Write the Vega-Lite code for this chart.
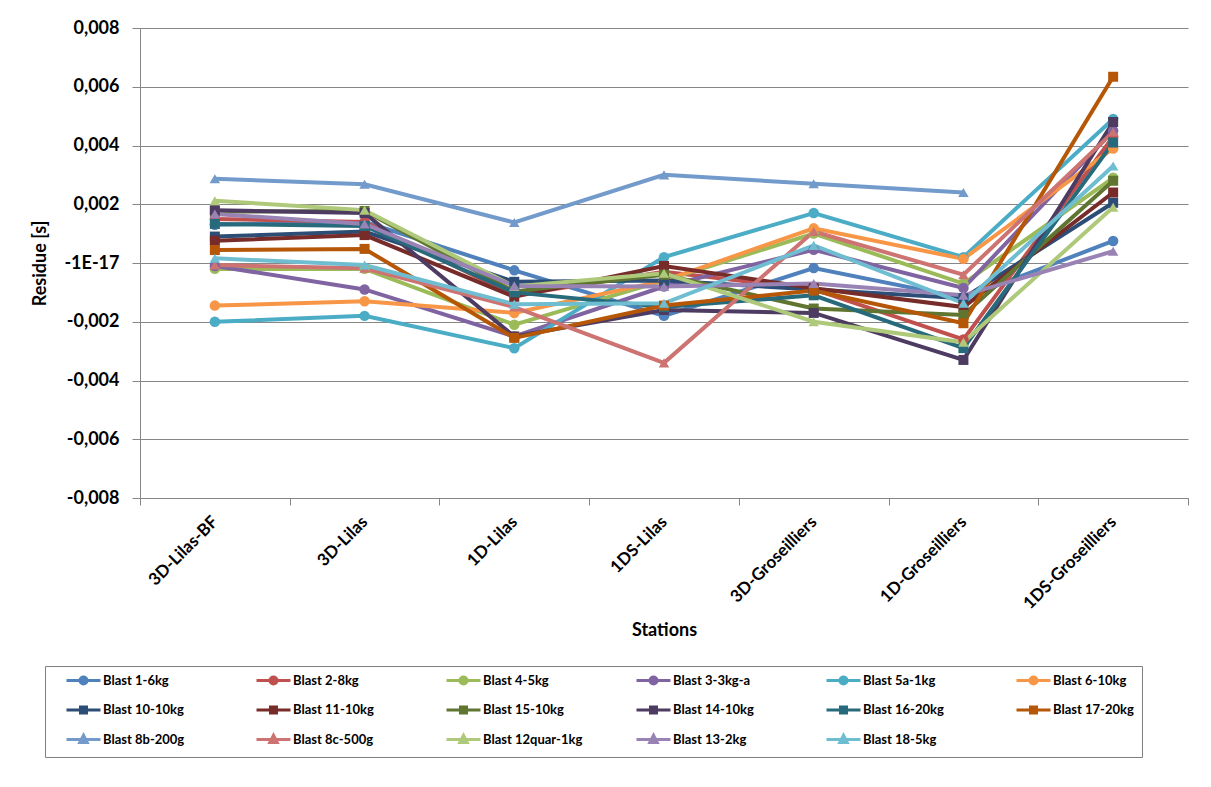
{
  "$schema": "https://vega.github.io/schema/vega-lite/v6.json",
  "autosize": "none",
  "width": 1048,
  "height": 470,
  "padding": {"left": 140, "top": 28, "right": 23, "bottom": 289},
  "background": "#ffffff",
  "config": {
    "font": "Lato",
    "view": {"stroke": null},
    "axis": {"gridColor": "#868686", "gridWidth": 1, "domainColor": "#868686", "tickColor": "#868686", "labelColor": "#000000", "titleColor": "#000000", "labelFont": "Lato", "titleFont": "Lato", "labelFontWeight": "bold", "titleFontWeight": "bold"}
  },
  "data": {"values": [
    {"b":"Blast 1-6kg","s":"3D-Lilas-BF","v":0.0013},
    {"b":"Blast 1-6kg","s":"3D-Lilas","v":0.0014},
    {"b":"Blast 1-6kg","s":"1D-Lilas","v":-0.00025},
    {"b":"Blast 1-6kg","s":"1DS-Lilas","v":-0.0018},
    {"b":"Blast 1-6kg","s":"3D-Groseilliers","v":-0.00017},
    {"b":"Blast 1-6kg","s":"1D-Groseilliers","v":-0.0012},
    {"b":"Blast 1-6kg","s":"1DS-Groseilliers","v":0.00075},
    {"b":"Blast 2-8kg","s":"3D-Lilas-BF","v":0.0015},
    {"b":"Blast 2-8kg","s":"3D-Lilas","v":0.0014},
    {"b":"Blast 2-8kg","s":"1D-Lilas","v":-0.0011},
    {"b":"Blast 2-8kg","s":"1DS-Lilas","v":-0.0003},
    {"b":"Blast 2-8kg","s":"3D-Groseilliers","v":-0.0009},
    {"b":"Blast 2-8kg","s":"1D-Groseilliers","v":-0.0026},
    {"b":"Blast 2-8kg","s":"1DS-Groseilliers","v":0.0043},
    {"b":"Blast 4-5kg","s":"3D-Lilas-BF","v":-0.0002},
    {"b":"Blast 4-5kg","s":"3D-Lilas","v":-0.0002},
    {"b":"Blast 4-5kg","s":"1D-Lilas","v":-0.0021},
    {"b":"Blast 4-5kg","s":"1DS-Lilas","v":-0.0006},
    {"b":"Blast 4-5kg","s":"3D-Groseilliers","v":0.001},
    {"b":"Blast 4-5kg","s":"1D-Groseilliers","v":-0.0007},
    {"b":"Blast 4-5kg","s":"1DS-Groseilliers","v":0.0029},
    {"b":"Blast 3-3kg-a","s":"3D-Lilas-BF","v":-0.0001},
    {"b":"Blast 3-3kg-a","s":"3D-Lilas","v":-0.0009},
    {"b":"Blast 3-3kg-a","s":"1D-Lilas","v":-0.0025},
    {"b":"Blast 3-3kg-a","s":"1DS-Lilas","v":-0.0008},
    {"b":"Blast 3-3kg-a","s":"3D-Groseilliers","v":0.00045},
    {"b":"Blast 3-3kg-a","s":"1D-Groseilliers","v":-0.00085},
    {"b":"Blast 3-3kg-a","s":"1DS-Groseilliers","v":0.0045},
    {"b":"Blast 5a-1kg","s":"3D-Lilas-BF","v":-0.002},
    {"b":"Blast 5a-1kg","s":"3D-Lilas","v":-0.0018},
    {"b":"Blast 5a-1kg","s":"1D-Lilas","v":-0.0029},
    {"b":"Blast 5a-1kg","s":"1DS-Lilas","v":0.0002},
    {"b":"Blast 5a-1kg","s":"3D-Groseilliers","v":0.0017},
    {"b":"Blast 5a-1kg","s":"1D-Groseilliers","v":0.0002},
    {"b":"Blast 5a-1kg","s":"1DS-Groseilliers","v":0.0049},
    {"b":"Blast 6-10kg","s":"3D-Lilas-BF","v":-0.00145},
    {"b":"Blast 6-10kg","s":"3D-Lilas","v":-0.0013},
    {"b":"Blast 6-10kg","s":"1D-Lilas","v":-0.0017},
    {"b":"Blast 6-10kg","s":"1DS-Lilas","v":-0.0006},
    {"b":"Blast 6-10kg","s":"3D-Groseilliers","v":0.00118},
    {"b":"Blast 6-10kg","s":"1D-Groseilliers","v":0.00014},
    {"b":"Blast 6-10kg","s":"1DS-Groseilliers","v":0.0039},
    {"b":"Blast 10-10kg","s":"3D-Lilas-BF","v":0.0009},
    {"b":"Blast 10-10kg","s":"3D-Lilas","v":0.00107},
    {"b":"Blast 10-10kg","s":"1D-Lilas","v":-0.00064},
    {"b":"Blast 10-10kg","s":"1DS-Lilas","v":-0.0006},
    {"b":"Blast 10-10kg","s":"3D-Groseilliers","v":-0.0009},
    {"b":"Blast 10-10kg","s":"1D-Groseilliers","v":-0.0012},
    {"b":"Blast 10-10kg","s":"1DS-Groseilliers","v":0.00205},
    {"b":"Blast 11-10kg","s":"3D-Lilas-BF","v":0.00076},
    {"b":"Blast 11-10kg","s":"3D-Lilas","v":0.00095},
    {"b":"Blast 11-10kg","s":"1D-Lilas","v":-0.00115},
    {"b":"Blast 11-10kg","s":"1DS-Lilas","v":-0.0001},
    {"b":"Blast 11-10kg","s":"3D-Groseilliers","v":-0.00086},
    {"b":"Blast 11-10kg","s":"1D-Groseilliers","v":-0.0015},
    {"b":"Blast 11-10kg","s":"1DS-Groseilliers","v":0.0024},
    {"b":"Blast 15-10kg","s":"3D-Lilas-BF","v":0.00175},
    {"b":"Blast 15-10kg","s":"3D-Lilas","v":0.00177},
    {"b":"Blast 15-10kg","s":"1D-Lilas","v":-0.00097},
    {"b":"Blast 15-10kg","s":"1DS-Lilas","v":-0.0004},
    {"b":"Blast 15-10kg","s":"3D-Groseilliers","v":-0.00155},
    {"b":"Blast 15-10kg","s":"1D-Groseilliers","v":-0.00177},
    {"b":"Blast 15-10kg","s":"1DS-Groseilliers","v":0.0028},
    {"b":"Blast 14-10kg","s":"3D-Lilas-BF","v":0.0018},
    {"b":"Blast 14-10kg","s":"3D-Lilas","v":0.0017},
    {"b":"Blast 14-10kg","s":"1D-Lilas","v":-0.0025},
    {"b":"Blast 14-10kg","s":"1DS-Lilas","v":-0.0016},
    {"b":"Blast 14-10kg","s":"3D-Groseilliers","v":-0.0017},
    {"b":"Blast 14-10kg","s":"1D-Groseilliers","v":-0.0033},
    {"b":"Blast 14-10kg","s":"1DS-Groseilliers","v":0.0048},
    {"b":"Blast 16-20kg","s":"3D-Lilas-BF","v":0.00133},
    {"b":"Blast 16-20kg","s":"3D-Lilas","v":0.00126},
    {"b":"Blast 16-20kg","s":"1D-Lilas","v":-0.001},
    {"b":"Blast 16-20kg","s":"1DS-Lilas","v":-0.0015},
    {"b":"Blast 16-20kg","s":"3D-Groseilliers","v":-0.0011},
    {"b":"Blast 16-20kg","s":"1D-Groseilliers","v":-0.0029},
    {"b":"Blast 16-20kg","s":"1DS-Groseilliers","v":0.0041},
    {"b":"Blast 17-20kg","s":"3D-Lilas-BF","v":0.00044},
    {"b":"Blast 17-20kg","s":"3D-Lilas","v":0.00048},
    {"b":"Blast 17-20kg","s":"1D-Lilas","v":-0.00255},
    {"b":"Blast 17-20kg","s":"1DS-Lilas","v":-0.00145},
    {"b":"Blast 17-20kg","s":"3D-Groseilliers","v":-0.00094},
    {"b":"Blast 17-20kg","s":"1D-Groseilliers","v":-0.00205},
    {"b":"Blast 17-20kg","s":"1DS-Groseilliers","v":0.00634},
    {"b":"Blast 8b-200g","s":"3D-Lilas-BF","v":0.00287},
    {"b":"Blast 8b-200g","s":"3D-Lilas","v":0.00268},
    {"b":"Blast 8b-200g","s":"1D-Lilas","v":0.00138},
    {"b":"Blast 8b-200g","s":"1DS-Lilas","v":0.003},
    {"b":"Blast 8b-200g","s":"3D-Groseilliers","v":0.0027},
    {"b":"Blast 8b-200g","s":"1D-Groseilliers","v":0.0024},
    {"b":"Blast 8c-500g","s":"3D-Lilas-BF","v":-0.00007},
    {"b":"Blast 8c-500g","s":"3D-Lilas","v":-0.00018},
    {"b":"Blast 8c-500g","s":"1D-Lilas","v":-0.0015},
    {"b":"Blast 8c-500g","s":"1DS-Lilas","v":-0.0034},
    {"b":"Blast 8c-500g","s":"3D-Groseilliers","v":0.00107},
    {"b":"Blast 8c-500g","s":"1D-Groseilliers","v":-0.0004},
    {"b":"Blast 8c-500g","s":"1DS-Groseilliers","v":0.00446},
    {"b":"Blast 12quar-1kg","s":"3D-Lilas-BF","v":0.00212},
    {"b":"Blast 12quar-1kg","s":"3D-Lilas","v":0.0018},
    {"b":"Blast 12quar-1kg","s":"1D-Lilas","v":-0.0008},
    {"b":"Blast 12quar-1kg","s":"1DS-Lilas","v":-0.00035},
    {"b":"Blast 12quar-1kg","s":"3D-Groseilliers","v":-0.002},
    {"b":"Blast 12quar-1kg","s":"1D-Groseilliers","v":-0.0027},
    {"b":"Blast 12quar-1kg","s":"1DS-Groseilliers","v":0.0019},
    {"b":"Blast 13-2kg","s":"3D-Lilas-BF","v":0.00167},
    {"b":"Blast 13-2kg","s":"3D-Lilas","v":0.00133},
    {"b":"Blast 13-2kg","s":"1D-Lilas","v":-0.00078},
    {"b":"Blast 13-2kg","s":"1DS-Lilas","v":-0.0008},
    {"b":"Blast 13-2kg","s":"3D-Groseilliers","v":-0.0007},
    {"b":"Blast 13-2kg","s":"1D-Groseilliers","v":-0.0011},
    {"b":"Blast 13-2kg","s":"1DS-Groseilliers","v":0.0004},
    {"b":"Blast 18-5kg","s":"3D-Lilas-BF","v":0.00016},
    {"b":"Blast 18-5kg","s":"3D-Lilas","v":-0.00007},
    {"b":"Blast 18-5kg","s":"1D-Lilas","v":-0.0014},
    {"b":"Blast 18-5kg","s":"1DS-Lilas","v":-0.00137},
    {"b":"Blast 18-5kg","s":"3D-Groseilliers","v":0.0006},
    {"b":"Blast 18-5kg","s":"1D-Groseilliers","v":-0.00137},
    {"b":"Blast 18-5kg","s":"1DS-Groseilliers","v":0.0033}
  ]},
  "encoding": {
    "x": {"field": "s", "type": "nominal", "sort": ["3D-Lilas-BF","3D-Lilas","1D-Lilas","1DS-Lilas","3D-Groseilliers","1D-Groseilliers","1DS-Groseilliers"],
      "scale": {"type": "band", "paddingInner": 0, "paddingOuter": 0},
      "axis": {"title": "Stations", "titleFontSize": 18, "titleY": 132, "titleBaseline": "middle", "labelAngle": -45, "labelAlign": "right", "labelBaseline": "middle", "labelFontSize": 17, "labelPadding": 14, "tickBand": "extent", "tickSize": 7, "grid": false, "labelLimit": 300}},
    "y": {"field": "v", "type": "quantitative",
      "scale": {"domain": [-0.008, 0.008], "nice": false, "zero": false},
      "axis": {"title": "Residue [s]", "titleFontSize": 18, "titleX": -100, "titleY": 235, "titleBaseline": "middle", "values": [-0.008,-0.006,-0.004,-0.002,0,0.002,0.004,0.006,0.008], "labelExpr": "datum.value == 0 ? '-1E-17' : (datum.value < 0 ? '-' : '') + replace(format(abs(datum.value), '.3f'), '.', ',')", "labelFontSize": 18, "labelPadding": 13, "tickSize": 8, "grid": true}}
  },
  "layer": [
    {"mark": {"type": "line", "strokeWidth": 4},
      "encoding": {
        "color": {"field": "b", "type": "nominal", "sort": null,
          "scale": {
            "domain": ["Blast 1-6kg","Blast 2-8kg","Blast 4-5kg","Blast 3-3kg-a","Blast 5a-1kg","Blast 6-10kg","Blast 10-10kg","Blast 11-10kg","Blast 15-10kg","Blast 14-10kg","Blast 16-20kg","Blast 17-20kg","Blast 8b-200g","Blast 8c-500g","Blast 12quar-1kg","Blast 13-2kg","Blast 18-5kg"],
            "range": ["#4F81BD","#C0504D","#9BBB59","#8064A2","#4BACC6","#F79646","#2C4D75","#772C2A","#5F7530","#4D3B62","#276A7C","#B65708","#729ACA","#CD7371","#AFC97A","#9983B5","#6FBDD1"]},
          "legend": {"title": null, "orient": "none", "legendX": -95, "legendY": 638, "direction": "horizontal", "columns": 6, "gridAlign": "all", "columnPadding": 40, "rowPadding": 9.5, "padding": 8, "strokeColor": "#7f7f7f", "fillColor": "#ffffff", "symbolSize": 100, "labelOffset": 37, "labelFont": "Lato", "labelFontSize": 13, "labelFontWeight": "bold", "labelColor": "#000000", "labelLimit": 200,
            "encode": {"symbols": {"update": {
              "shape": {"signal": "indexof(['Blast 1-6kg','Blast 2-8kg','Blast 4-5kg','Blast 3-3kg-a','Blast 5a-1kg','Blast 6-10kg'], datum.value) >= 0 ? 'M1.4,0H8.2M4.1,0A0.7,0.7 0 1,0 5.5,0A0.7,0.7 0 1,0 4.1,0Z' : (indexof(['Blast 10-10kg','Blast 11-10kg','Blast 15-10kg','Blast 14-10kg','Blast 16-20kg','Blast 17-20kg'], datum.value) >= 0 ? 'M1.4,0H8.2M4.2,-0.6H5.4V0.6H4.2Z' : 'M1.4,0H8.2M4.8,-0.85L5.55,0.6H4.05Z')"},
              "fill": {"signal": "scale('color', datum.value)"},
              "stroke": {"signal": "scale('color', datum.value)"},
              "strokeWidth": {"value": 3},
              "opacity": {"value": 1}
            }}}}},
        "detail": {"field": "b"}}},
    {"transform": [{"filter": {"field": "b", "oneOf": ["Blast 1-6kg","Blast 2-8kg","Blast 4-5kg","Blast 3-3kg-a","Blast 5a-1kg","Blast 6-10kg"]}}],
      "mark": {"type": "point", "shape": "circle", "filled": true, "opacity": 1, "size": 110},
      "encoding": {"color": {"field": "b", "type": "nominal", "sort": null, "legend": null}}},
    {"transform": [{"filter": {"field": "b", "oneOf": ["Blast 10-10kg","Blast 11-10kg","Blast 15-10kg","Blast 14-10kg","Blast 16-20kg","Blast 17-20kg"]}}],
      "mark": {"type": "point", "shape": "square", "filled": true, "opacity": 1, "size": 100},
      "encoding": {"color": {"field": "b", "type": "nominal", "sort": null, "legend": null}}},
    {"transform": [{"filter": {"field": "b", "oneOf": ["Blast 8b-200g","Blast 8c-500g","Blast 12quar-1kg","Blast 13-2kg","Blast 18-5kg"]}}],
      "mark": {"type": "point", "shape": "triangle-up", "filled": true, "opacity": 1, "size": 110},
      "encoding": {"color": {"field": "b", "type": "nominal", "sort": null, "legend": null}}}
  ]
}
